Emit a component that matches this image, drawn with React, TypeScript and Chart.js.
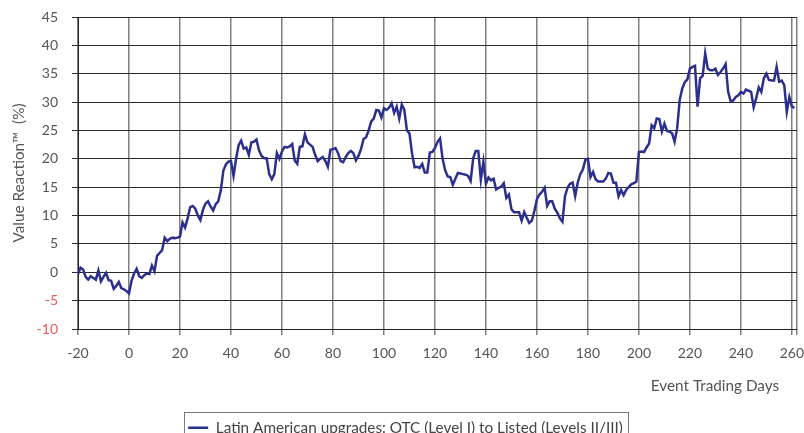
import React, { useEffect, useRef } from "react";
import { Chart, registerables } from "chart.js";

Chart.register(...registerables);

const startDay = -20;

// Value reaction (%) per event trading day, from day -20 to day 261
const valueReaction: number[] = [
  -0.3, 0.8, 0.5, -0.8, -1.3, -0.7, -1.0, -1.3, 0.3, -1.6,
  -0.8, -0.1, -1.4, -1.5, -2.9, -2.4, -1.7, -2.8, -3.0, -3.3,
  -3.7, -1.5, -0.2, 0.6, -0.7, -1.0, -0.5, -0.2, -0.3, 1.2,
  0.2, 2.9, 3.4, 3.9, 6.1, 5.5, 5.9, 6.1, 6.0, 6.1,
  6.3, 8.8, 7.9, 9.5, 11.5, 11.7, 11.2, 10.0, 9.2, 11.0,
  12.1, 12.5, 11.6, 10.9, 12.0, 12.5, 14.4, 17.9, 19.0, 19.5,
  19.6, 17.0, 20.0, 22.4, 23.2, 21.8, 22.0, 20.7, 22.9, 23.0,
  23.4, 21.5, 20.5, 20.1, 20.1, 17.3, 16.4, 17.3, 21.0, 20.0,
  21.3, 22.1, 22.0, 22.2, 22.6, 19.7, 19.1, 22.1, 22.2, 24.3,
  22.9, 22.5, 22.1, 20.7, 19.6, 20.0, 20.3, 19.6, 18.6, 21.6,
  21.7, 21.9, 21.0, 19.6, 19.4, 20.3, 21.0, 21.4, 21.0, 19.7,
  20.5, 21.7, 23.5, 23.8, 25.0, 26.6, 27.1, 28.6, 28.5, 27.3,
  28.9, 28.6, 29.0, 29.8, 28.1, 29.2, 27.1, 29.6, 28.6, 25.0,
  24.5, 21.0, 18.5, 18.6, 18.4, 19.1, 17.6, 17.6, 21.1, 21.2,
  21.9, 23.0, 23.6, 20.0, 18.0, 16.9, 16.8, 15.4, 16.5, 17.5,
  17.4, 17.3, 17.2, 17.0, 16.1, 20.1, 21.4, 21.4, 16.3, 19.5,
  15.6, 16.7, 16.2, 16.5, 14.6, 14.9, 15.1, 15.7, 13.1, 13.7,
  11.1, 10.6, 10.6, 10.6, 9.1, 10.6, 9.6, 8.7, 9.1, 10.8,
  12.9, 13.7, 14.2, 14.9, 11.7, 12.5, 12.5, 11.2, 10.5, 9.5,
  8.9, 13.4, 14.9, 15.6, 15.8, 13.4, 15.8, 17.3, 18.1, 19.8,
  20.0, 16.8, 17.7, 16.4, 16.0, 16.0, 16.0, 16.5, 17.5, 17.4,
  15.8, 15.8, 13.4, 14.5, 13.6, 14.5, 15.0, 15.5, 15.7, 16.0,
  21.2, 21.3, 21.2, 22.0, 22.7, 25.9, 25.4, 27.1, 27.0, 24.8,
  26.2, 24.9, 24.8, 24.5, 23.0, 25.4, 30.4, 32.4, 33.5, 34.0,
  35.9, 36.2, 36.4, 29.2, 34.2, 34.6, 38.6, 35.9, 35.6, 35.6,
  35.9, 34.8, 35.3, 35.9, 36.7, 31.8, 30.1, 30.3, 30.9, 31.2,
  31.8, 31.5, 32.2, 32.0, 31.8, 29.1, 30.7, 32.6, 31.8, 34.2,
  35.0, 33.9, 33.8, 33.8, 36.2, 33.6, 33.8, 33.0, 28.3, 30.9,
  29.2, 29.0,
];

const seriesLabel = "Latin American upgrades: OTC (Level I) to Listed (Levels II/III)";
const xTitle = "Event Trading Days";
const yTitle = "Value Reaction\u2122  (%)";
const xMin = -20;
const xMax = 262;
const xStep = 20;
const yMin = -10;
const yMax = 45;
const yStep = 5;

const FONT = "Lato, 'Open Sans', sans-serif";
const TITLE_SIZE = 15.3;

const legendBoxPlugin = {
  id: "legendBox",
  afterDraw(chart: any) {
    const ctx = chart.ctx;
    const lg = chart.legend;
    if (lg && lg.legendHitBoxes && lg.legendHitBoxes.length) {
      const hb = lg.legendHitBoxes[0];
      ctx.save();
      ctx.strokeStyle = "#7a7a7a";
      ctx.lineWidth = 1;
      ctx.strokeRect(
        Math.round(hb.left - 4) + 0.5,
        Math.round(hb.top - 8) + 0.5,
        Math.round(hb.width + 9),
        40
      );
      ctx.restore();
    }
    // x-axis title, right aligned a little inside the plot's right edge
    const xs = chart.scales.x;
    ctx.save();
    ctx.fillStyle = "#555";
    ctx.font = `${TITLE_SIZE}px ${FONT}`;
    ctx.textAlign = "right";
    ctx.textBaseline = "middle";
    ctx.fillText(xTitle, xs.getPixelForValue(255), xs.top + 57);
    ctx.restore();
  },
};

export default function App() {
  const ref = useRef<HTMLCanvasElement | null>(null);

  useEffect(() => {
    if (!ref.current) return;
    const points = valueReaction.map((v, i) => ({ x: startDay + i, y: v }));
    const chart = new Chart(ref.current, {
      type: "line",
      data: {
        datasets: [
          {
            label: seriesLabel,
            data: points,
            borderColor: "#2b2f8e",
            backgroundColor: "#2b2f8e",
            borderWidth: 2.5,
            pointRadius: 0,
            tension: 0,
            fill: false,
          },
        ],
      },
      plugins: [legendBoxPlugin],
      options: {
        animation: false,
        responsive: false,
        devicePixelRatio: 1,
        layout: { padding: { left: 14, right: 7, top: 17, bottom: -12.3 } },
        plugins: {
          legend: {
            display: true,
            position: "bottom",
            labels: {
              usePointStyle: true,
              pointStyle: "line",
              pointStyleWidth: 20,
              padding: 25,
              color: "#444",
              font: { family: FONT, size: TITLE_SIZE },
            },
          },
          tooltip: { enabled: false },
        },
        scales: {
          x: {
            type: "linear",
            min: xMin,
            max: xMax,
            afterFit: (scale: any) => {
              scale.height = 66;
              scale.paddingRight = 0;
              scale.paddingLeft = 0;
            },
            afterBuildTicks: (scale: any) => {
              const t: any[] = [];
              for (let v = xMin; v <= xMax; v += xStep) t.push({ value: v });
              t.push({ value: xMax });
              scale.ticks = t;
            },
            ticks: {
              stepSize: xStep,
              maxRotation: 0,
              autoSkip: false,
              padding: 10,
              color: "#555",
              font: { family: FONT, size: 14 },
              callback: (v: any) => (Number(v) % xStep === 0 ? String(v) : ""),
            },
            grid: {
              color: "#808080",
              lineWidth: 1.5,
              tickLength: 6,
              drawTicks: true,
            },
            border: { display: true, color: "#222", width: 1 },
            title: { display: false, text: xTitle },
          },
          y: {
            type: "linear",
            min: yMin,
            max: yMax,
            afterFit: (scale: any) => {
              scale.width = 64;
              scale.paddingTop = 8;
              scale.paddingBottom = 8;
            },
            ticks: {
              stepSize: yStep,
              padding: 14,
              color: (ctx: any) => (ctx.tick && ctx.tick.value < 0 ? "#ee5a5a" : "#555"),
              font: { family: FONT, size: 14 },
            },
            grid: {
              color: "#2a2a2a",
              lineWidth: 1,
              tickLength: 6,
              drawTicks: true,
            },
            border: { display: true, color: "#222", width: 1 },
            title: {
              display: true,
              text: yTitle,
              color: "#555",
              font: { family: FONT, size: TITLE_SIZE },
              padding: { top: -4, bottom: 0 },
            },
          },
        },
      },
    });
    return () => chart.destroy();
  }, []);

  return (
    <div style={{ position: "fixed", left: 0, top: 0, width: 804, height: 433, background: "#fff" }}>
      <canvas ref={ref} width={804} height={433} style={{ width: 804, height: 433 }} />
    </div>
  );
}
